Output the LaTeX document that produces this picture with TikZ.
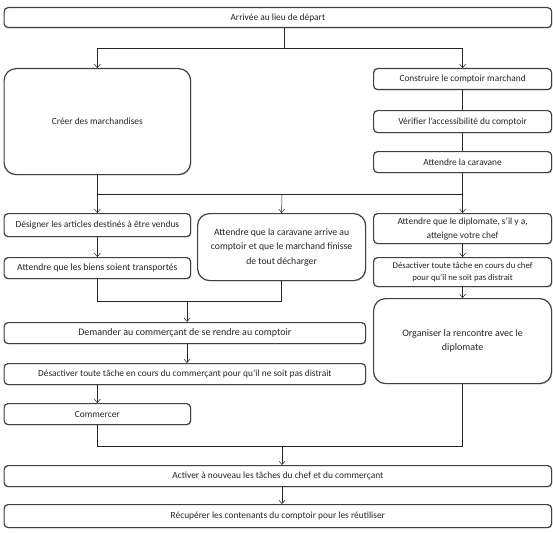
\documentclass[tikz,border=0pt]{standalone}
\usepackage{fontspec}
\setmainfont{Carlito}
\usetikzlibrary{arrows.meta,shadows}

\begin{document}
\begin{tikzpicture}[x=1pt,y=-1pt,
        etape/.style={draw=black!75,line width=1.2pt,rounded corners=4pt,fill=white,
            anchor=north west,inner sep=0pt,align=center,text=black!85,
            font=\fontsize{9.4}{12}\selectfont,
            drop shadow={shadow xshift=0.8pt,shadow yshift=-0.8pt,opacity=0.3}},
        grande/.style={etape,rounded corners=12pt},
        lien/.style={draw=black!85,line width=0.5pt},
        fleche/.style={lien,-{Straight Barb[length=3.5pt,width=6pt]}}]
        \useasboundingbox (0,0) rectangle (553,532);

        \coordinate (P1)  at (3.5,7);
        \coordinate (P2)  at (3.5,68);
        \coordinate (P3)  at (373,68);
        \coordinate (P4)  at (373,110);
        \coordinate (P5)  at (373,151);
        \coordinate (P6)  at (3.5,213);
        \coordinate (P7)  at (197,213);
        \coordinate (P8)  at (373,213);
        \coordinate (P9)  at (3.5,257);
        \coordinate (P10) at (373,257);
        \coordinate (P11) at (373,298);
        \coordinate (P12) at (3.5,322);
        \coordinate (P13) at (3.5,363);
        \coordinate (P14) at (3.5,403);
        \coordinate (P15) at (3.5,465);
        \coordinate (P16) at (3.5,504);

        \coordinate (S1) at (284,48);
        \coordinate (S2) at (282,194);
        \coordinate (S3) at (187,301);
        \coordinate (S4) at (282,446);

        \node[etape,minimum width=547.5pt,minimum height=20pt]  (arrivee)    at (P1)  {Arrivée au lieu de départ};
        \node[grande,minimum width=186.5pt,minimum height=106pt] (creer)     at (P2)  {Créer des marchandises};
        \node[etape,minimum width=178pt,minimum height=21pt]    (construire) at (P3)  {Construire le comptoir marchand};
        \node[etape,minimum width=178pt,minimum height=22pt]    (verifier)   at (P4)  {Vérifier l’accessibilité du comptoir};
        \node[etape,minimum width=178pt,minimum height=21pt]    (caravane)   at (P5)  {Attendre la caravane};
        \node[etape,minimum width=186.5pt,minimum height=23pt]  (designer)   at (P6)  {Désigner les articles destinés à être vendus};
        \node[grande,minimum width=168pt,minimum height=67pt,font=\fontsize{9.7}{14.5}\selectfont] (arrive) at (P7)
            {Attendre que la caravane arrive au\\comptoir et que le marchand finisse\\de tout décharger};
        \node[etape,minimum width=178pt,minimum height=30pt,font=\fontsize{9.4}{14}\selectfont] (diplomate) at (P8)
            {Attendre que le diplomate, s’il y a,\\atteigne votre chef};
        \node[etape,minimum width=186.5pt,minimum height=21pt,font=\fontsize{9.6}{12}\selectfont] (biens) at (P9)
            {Attendre que les biens soient transportés};
        \node[etape,minimum width=178pt,minimum height=29pt,font=\fontsize{8.7}{12.5}\selectfont] (chef) at (P10)
            {Désactiver toute tâche en cours du chef\\pour qu’il ne soit pas distrait};
        \node[grande,minimum width=178pt,minimum height=85pt,font=\fontsize{10}{14}\selectfont] (organiser) at (P11)
            {Organiser la rencontre avec le\\diplomate};
        \node[etape,minimum width=361.5pt,minimum height=21pt,font=\fontsize{10}{12}\selectfont] (demander) at (P12)
            {Demander au commerçant de se rendre au comptoir};
        \node[etape,minimum width=361.5pt,minimum height=21pt]  (commercant) at (P13)
            {Désactiver toute tâche en cours du commerçant pour qu’il ne soit pas distrait};
        \node[etape,minimum width=186.5pt,minimum height=21pt]  (commercer)  at (P14) {Commercer};
        \node[etape,minimum width=547.5pt,minimum height=21pt]  (activer)    at (P15)
            {Activer à nouveau les tâches du chef et du commerçant};
        \node[etape,minimum width=547.5pt,minimum height=23pt]  (recuperer)  at (P16)
            {Récupérer les contenants du comptoir pour les réutiliser};

        % depart
        \draw[lien]   (arrivee.south -| S1) -- (S1);
        \draw[fleche] (S1) -| (creer.north);
        \draw[fleche] (S1) -| (construire.north);
        \draw[lien]   (construire) -- (verifier);
        \draw[lien]   (verifier) -- (caravane);

        % trois branches
        \draw[lien]   (creer.south |- S2) -- (caravane.south |- S2);
        \draw[fleche] (creer.south) -- (designer.north);
        \draw[fleche] (S2) -- (arrive.north);
        \draw[fleche] (caravane.south) -- (diplomate.north);
        \draw[fleche] (designer) -- (biens);
        \draw[fleche] (diplomate) -- (chef);
        \draw[fleche] (chef) -- (organiser);

        % vers le commerçant
        \draw[lien]   (biens.south) |- (arrive.south |- S3) -- (arrive.south);
        \draw[fleche] (S3) -- (S3 |- demander.north);
        \draw[fleche] (S3 |- demander.south) -- (S3 |- commercant.north);
        \draw[fleche] (commercer.north |- commercant.south) -- (commercer.north);

        % fin
        \draw[lien]   (commercer.south) |- (organiser.south |- S4) -- (organiser.south);
        \draw[fleche] (S4) -- (S4 |- activer.north);
        \draw[fleche] (S4 |- activer.south) -- (S4 |- recuperer.north);
    \end{tikzpicture}
\end{document}
